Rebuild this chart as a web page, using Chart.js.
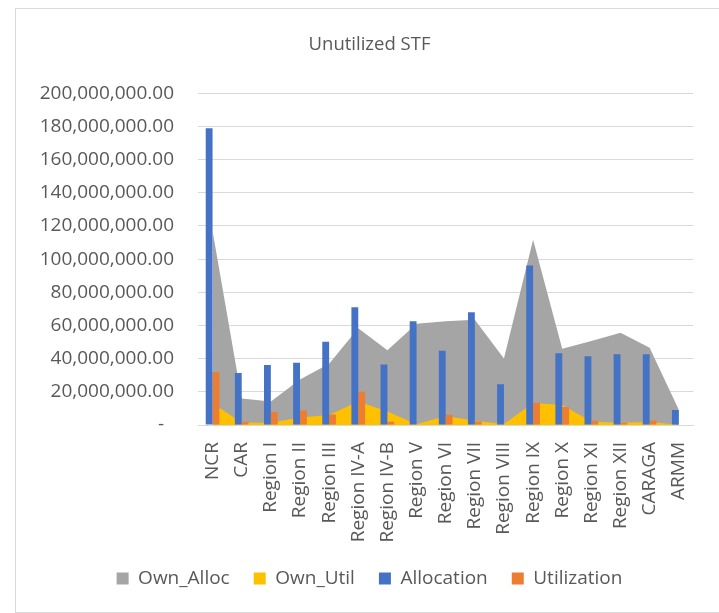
<!DOCTYPE html>
<html>
<head>
<meta charset="utf-8">
<script src="https://cdn.jsdelivr.net/npm/chart.js@4.4.0/dist/chart.umd.min.js"></script>
<style>
  html, body { margin: 0; padding: 0; background: #fff; }
  #frame { position: absolute; left: 15px; top: 8px; width: 760px; height: 603px; border: 1px solid #d9d9d9; }
  #wrap { position: absolute; left: 0; top: 0; width: 719px; height: 613px; }
</style>
</head>
<body>
<div id="frame"></div>
<div id="wrap"><canvas id="chart" width="719" height="613"></canvas></div>
<script>
// categories and series
const regions = ['NCR', 'CAR', 'Region I', 'Region II', 'Region III', 'Region IV-A', 'Region IV-B', 'Region V',
  'Region VI', 'Region VII', 'Region VIII', 'Region IX', 'Region X', 'Region XI', 'Region XII', 'CARAGA', 'ARMM'];

const ownAlloc = [117000000, 15900000, 14200000, 27400000, 36900000, 58300000, 45000000, 61100000,
  62500000, 63500000, 40100000, 111600000, 45900000, 50600000, 55600000, 46500000, 9200000];
const ownUtil = [13000000, 1500000, 1400000, 4500000, 6100000, 14200000, 8100000, 400000,
  5500000, 2500000, 600000, 13200000, 12000000, 2100000, 1300000, 1800000, 200000];
const allocation = [178900000, 31400000, 36100000, 37500000, 50200000, 71000000, 36500000, 62500000,
  44700000, 68000000, 24500000, 96100000, 43300000, 41500000, 42700000, 42700000, 9000000];
const utilization = [32000000, 1900000, 7800000, 8800000, 6400000, 20100000, 1900000, 300000,
  6200000, 2100000, 300000, 13400000, 10800000, 2500000, 1300000, 2700000, 0];

const yMax = 200000000;
const yStep = 20000000;

Chart.defaults.font.family = "'Open Sans', sans-serif";
Chart.defaults.color = '#595959';

const ctx = document.getElementById('chart').getContext('2d');
const chart = new Chart(ctx, {
  type: 'bar',
  data: {
    labels: regions,
    datasets: [
      {
        type: 'line',
        label: 'Own_Alloc',
        data: ownAlloc,
        backgroundColor: '#A5A5A5',
        borderColor: '#A5A5A5',
        borderWidth: 0,
        pointRadius: 0,
        tension: 0,
        fill: 'origin',
        order: 4
      },
      {
        type: 'line',
        label: 'Own_Util',
        data: ownUtil,
        backgroundColor: '#FFC000',
        borderColor: '#FFC000',
        borderWidth: 0,
        pointRadius: 0,
        tension: 0,
        fill: 'origin',
        order: 3
      },
      {
        label: 'Allocation',
        data: allocation,
        backgroundColor: '#4472C4',
        borderWidth: 0,
        order: 1
      },
      {
        label: 'Utilization',
        data: utilization,
        backgroundColor: '#ED7D31',
        borderWidth: 0,
        order: 1
      }
    ]
  },
  options: {
    responsive: false,
    animation: false,
    categoryPercentage: 0.47,
    barPercentage: 1.0,
    layout: { padding: { left: 34, right: 14, top: 0, bottom: 15 } },
    plugins: {
      title: {
        display: true,
        text: 'Unutilized STF',
        font: { size: 18.5, weight: 'normal' },
        color: '#595959',
        padding: { top: 34, bottom: 37 }
      },
      legend: {
        position: 'bottom',
        labels: {
          boxWidth: 12,
          boxHeight: 12,
          padding: 24,
          font: { size: 19 },
          color: '#595959',
          sort: (a, b) => a.datasetIndex - b.datasetIndex
        }
      },
      tooltip: { enabled: false }
    },
    scales: {
      x: {
        grid: { display: false, drawTicks: false },
        border: { color: '#d9d9d9' },
        ticks: {
          minRotation: 90,
          maxRotation: 90,
          autoSkip: false,
          padding: 17,
          font: { size: 19 }
        },
        afterFit(scale) { scale.height = 120; }
      },
      y: {
        min: 0,
        max: yMax,
        grid: { color: '#d9d9d9', drawTicks: false },
        border: { display: false },
        ticks: {
          stepSize: yStep,
          padding: 24,
          font: { size: 19 },
          callback: v => v === 0 ? '-  ' : v.toLocaleString('en-US', { minimumFractionDigits: 2, maximumFractionDigits: 2 })
        },
        afterFit(scale) { scale.width = 164; }
      }
    }
  }
});
</script>
</body>
</html>
